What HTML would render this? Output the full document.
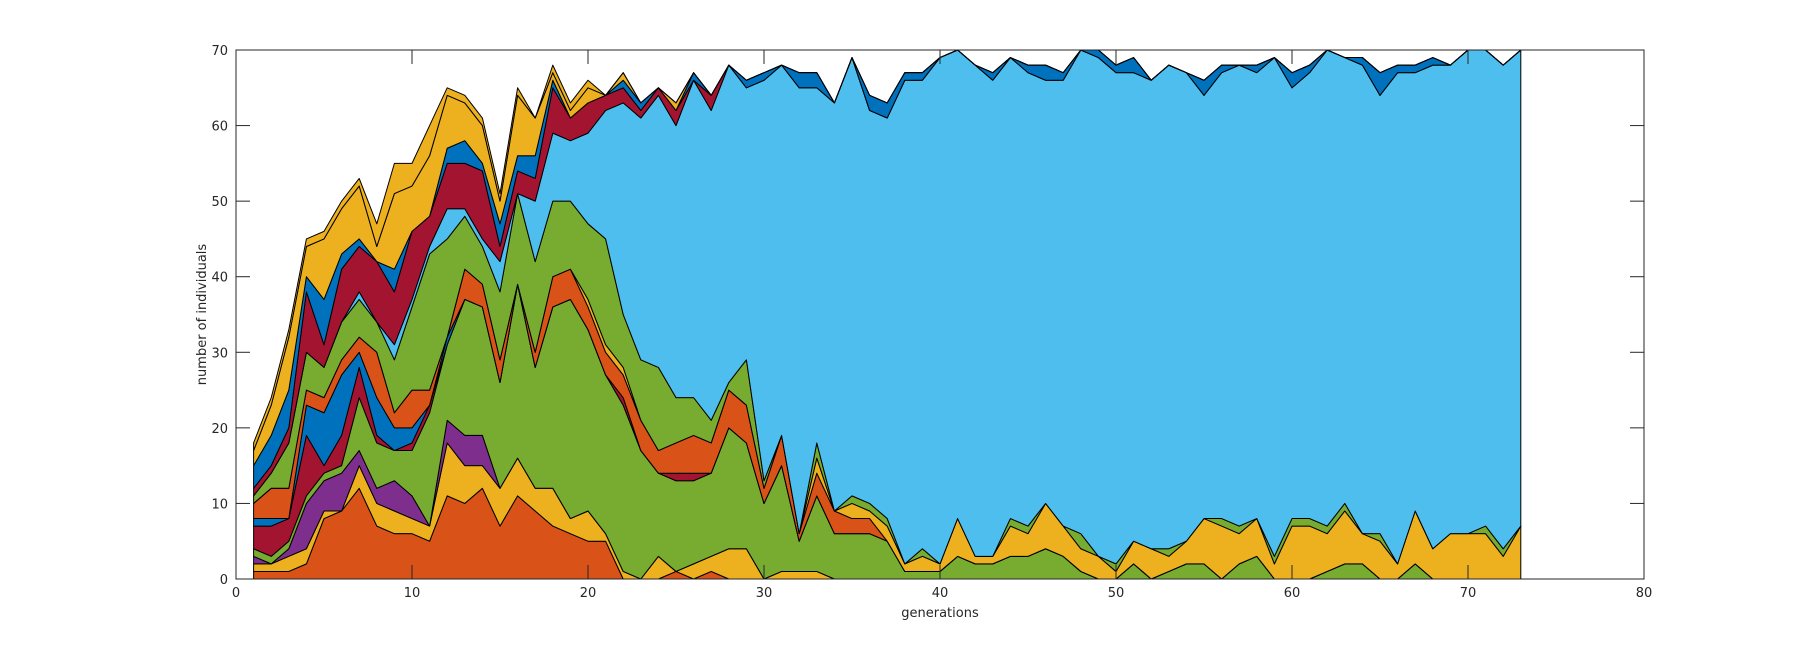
<!DOCTYPE html>
<html><head><meta charset="utf-8">
<style>
html,body{margin:0;padding:0;background:#fff;}
svg{display:block;font-family:"DejaVu Sans","Liberation Sans",sans-serif;}
</style></head>
<body>
<svg id="chart" width="1819" height="652" viewBox="0 0 1819 652">
<g id="areas"></g>
<g id="axes"></g>
</svg>
<script>
const generations = [];
for (let i = 1; i <= 73; i++) generations.push(i);
const xTicks = [0,10,20,30,40,50,60,70,80];
const yTicks = [0,10,20,30,40,50,60,70];

const s01_orange = [1,1,1,2,8,9,12,7,6,6,5,11,10,12,7,11,9,7,6,5,5,0,0,0,1,0,1,0,0,0,0,0,0,0,0,0,0,0,0,0,0,0,0,0,0,0,0,0,0,0,0,0,0,0,0,0,0,0,0,0,0,0,0,0,0,0,0,0,0,0,0,0,0];
const s02_yellow = [1,1,2,2,1,0,3,3,3,2,2,7,5,3,5,5,3,5,2,4,1,1,0,3,0,2,2,4,4,0,1,1,1,0,0,0,0,0,0,0,0,0,0,0,0,0,0,0,0,0,0,0,0,0,0,0,0,0,0,0,0,0,0,0,0,0,0,0,0,0,0,0,0];
const s03_purple = [1,0,1,6,4,5,2,2,4,3,0,3,4,4,0,0,0,0,0,0,0,0,0,0,0,0,0,0,0,0,0,0,0,0,0,0,0,0,0,0,0,0,0,0,0,0,0,0,0,0,0,0,0,0,0,0,0,0,0,0,0,0,0,0,0,0,0,0,0,0,0,0,0];
const s04_green = [1,1,1,1,1,1,7,6,4,6,15,10,18,17,14,23,16,24,29,24,21,22,17,11,12,11,11,16,14,10,14,4,10,6,6,6,5,1,1,1,3,2,2,3,3,4,3,1,0,0,2,0,1,2,2,0,2,3,0,0,0,1,2,2,0,0,2,0,0,0,0,0,0];
const s05_darkred = [3,4,3,8,1,4,4,1,0,1,1,0,0,0,0,0,0,0,0,0,0,1,0,0,1,1,0,0,0,0,0,0,0,0,0,0,0,0,0,0,0,0,0,0,0,0,0,0,0,0,0,0,0,0,0,0,0,0,0,0,0,0,0,0,0,0,0,0,0,0,0,0,0];
const s06_blue = [1,1,0,4,7,8,2,5,3,2,0,1,0,0,0,0,0,0,0,0,0,0,0,0,0,0,0,0,0,0,0,0,0,0,0,0,0,0,0,0,0,0,0,0,0,0,0,0,0,0,0,0,0,0,0,0,0,0,0,0,0,0,0,0,0,0,0,0,0,0,0,0,0];
const s07_orange = [2,4,4,2,2,2,2,6,2,5,2,0,4,3,3,0,2,4,4,3,3,3,4,3,4,5,4,5,5,2,4,1,3,3,2,2,0,0,0,0,0,0,0,0,0,0,0,0,0,0,0,0,0,0,0,0,0,0,0,0,0,0,0,0,0,0,0,0,0,0,0,0,0];
const s08_yellow = [0,0,0,0,0,0,0,0,0,0,0,0,0,0,0,0,0,0,0,1,1,1,0,0,0,0,0,0,0,0,0,0,2,0,2,1,2,1,2,1,5,1,1,4,3,6,4,3,3,1,3,4,2,3,6,7,4,5,2,7,7,5,7,4,5,2,7,4,6,6,6,3,7];
const s09_green = [1,2,6,5,4,5,5,4,7,11,18,13,7,5,9,12,12,10,9,10,14,7,8,11,6,5,3,1,6,1,0,0,2,0,1,1,1,0,1,0,0,0,0,1,1,0,0,2,0,1,0,0,1,0,0,1,1,0,1,1,1,1,1,0,1,0,0,0,0,0,1,1,0];
const s10_lightblue = [0,0,0,0,0,0,1,0,2,1,1,4,1,1,4,0,8,9,8,12,17,28,32,36,36,42,41,42,36,53,49,59,47,54,58,52,53,64,62,67,62,65,63,61,60,56,59,64,66,65,62,62,64,62,56,59,61,59,66,57,59,63,59,62,58,65,58,64,62,64,63,64,63];
const s11_darkred = [1,1,2,8,3,7,6,8,7,9,4,6,6,9,2,3,3,6,3,4,2,2,1,1,2,0,2,0,0,0,0,0,0,0,0,0,0,0,0,0,0,0,0,0,0,0,0,0,0,0,0,0,0,0,0,0,0,0,0,0,0,0,0,0,0,0,0,0,0,0,0,0,0];
const s12_blue = [3,4,5,2,6,2,1,0,3,0,0,2,3,1,3,2,3,1,0,0,0,1,1,0,0,1,0,0,1,1,0,2,2,0,0,2,2,1,1,0,0,0,1,0,1,2,1,0,1,1,2,0,0,0,2,1,0,1,0,2,1,0,0,1,3,1,1,1,0,0,0,0,0];
const s13_yellow = [2,4,7,4,8,6,7,2,10,6,8,7,5,5,3,8,5,1,1,2,0,1,0,0,1,0,0,0,0,0,0,0,0,0,0,0,0,0,0,0,0,0,0,0,0,0,0,0,0,0,0,0,0,0,0,0,0,0,0,0,0,0,0,0,0,0,0,0,0,0,0,0,0];
const s14_yellow = [1,1,1,1,1,1,1,3,4,3,4,1,1,1,1,1,0,1,1,1,0,0,0,0,0,0,0,0,0,0,0,0,0,0,0,0,0,0,0,0,0,0,0,0,0,0,0,0,0,0,0,0,0,0,0,0,0,0,0,0,0,0,0,0,0,0,0,0,0,0,0,0,0];

const series = [s01_orange,s02_yellow,s03_purple,s04_green,s05_darkred,s06_blue,s07_orange,s08_yellow,s09_green,s10_lightblue,s11_darkred,s12_blue,s13_yellow,s14_yellow];
const seriesNames = ['layer-orange-1','layer-yellow-1','layer-purple','layer-green-1','layer-darkred-1','layer-blue-1','layer-orange-2','layer-yellow-2','layer-green-2','layer-lightblue','layer-darkred-2','layer-blue-2','layer-yellow-3','layer-yellow-4'];
const colors = ['#D95319','#EDB120','#7E2F8E','#77AC30','#A2142F','#0072BD','#D95319','#EDB120','#77AC30','#4DBEEE','#A2142F','#0072BD','#EDB120','#EDB120'];

const L=236, R=1644, T=50, B=579;
const xMin=0,xMax=80,yMin=0,yMax=70;
function sx(v){return L+(v-xMin)/(xMax-xMin)*(R-L);}
function sy(v){return B-(v-yMin)/(yMax-yMin)*(B-T);}
const NS='http://www.w3.org/2000/svg';
const areas=document.getElementById('areas');
const axes=document.getElementById('axes');

let base = generations.map(()=>0);
series.forEach((s,k)=>{
  const top = base.map((b,i)=>b+s[i]);
  let pts=[];
  generations.forEach((g,i)=>pts.push(sx(g).toFixed(2)+','+sy(top[i]).toFixed(2)));
  for(let i=generations.length-1;i>=0;i--) pts.push(sx(generations[i]).toFixed(2)+','+sy(base[i]).toFixed(2));
  const p=document.createElementNS(NS,'polygon');
  p.setAttribute('points',pts.join(' '));
  p.setAttribute('fill',colors[k]);
  p.setAttribute('stroke','#000');
  p.setAttribute('stroke-width','1');
  p.setAttribute('stroke-linejoin','round');
  
  
  areas.appendChild(p);
  base=top;
});

function line(x1,y1,x2,y2,name){
  const l=document.createElementNS(NS,'line');
  l.setAttribute('x1',x1);l.setAttribute('y1',y1);l.setAttribute('x2',x2);l.setAttribute('y2',y2);
  l.setAttribute('stroke','#262626');l.setAttribute('stroke-width','1');
  
  
  axes.appendChild(l);
}
function text(x,y,str,anchor,name,rot){
  const t=document.createElementNS(NS,'text');
  t.setAttribute('x',x);t.setAttribute('y',y);
  t.setAttribute('text-anchor',anchor);
  t.setAttribute('font-size','13');
  t.setAttribute('fill','#262626');
  if(rot) t.setAttribute('transform','rotate(-90 '+x+' '+y+')');
  t.textContent=str;
  
  
  axes.appendChild(t);
}
const frame=document.createElementNS(NS,'rect');
frame.setAttribute('x',L);frame.setAttribute('y',T);frame.setAttribute('width',R-L);frame.setAttribute('height',B-T);
frame.setAttribute('fill','none');frame.setAttribute('stroke','#262626');frame.setAttribute('stroke-width','1');


axes.appendChild(frame);
xTicks.forEach(v=>{
  const x=sx(v);
  line(x,B,x,B-14,'x-tick');
  line(x,T,x,T+14,'x-tick-top');
  text(x,B+18,String(v),'middle','x-tick-label');
});
yTicks.forEach(v=>{
  const y=sy(v);
  line(L,y,L+14,y,'y-tick');
  line(R,y,R-14,y,'y-tick-right');
  text(L-8,y+5,String(v),'end','y-tick-label');
});
text((L+R)/2,617,'generations','middle','x-axis-title');
text(206,(T+B)/2,'number of individuals','middle','y-axis-title',true);
</script>
</body></html>
